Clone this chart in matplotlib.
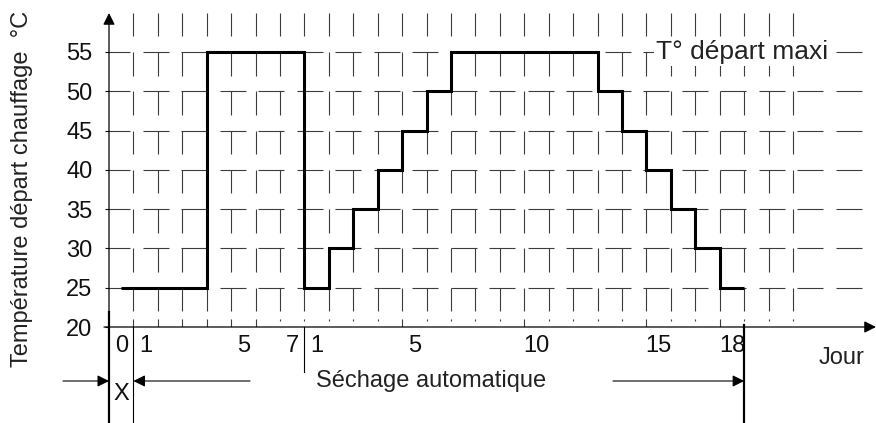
import numpy as np
import matplotlib.pyplot as plt
from matplotlib.collections import LineCollection

plt.rcParams['font.family'] = ['Liberation Sans', 'DejaVu Sans']

# consignes de temperature, un palier par jour
jours_x = [0, 1, 2, 3, 4, 5, 6, 7]
temp_x = [25, 25, 25, 25, 55, 55, 55, 55]
jours_sechage = list(range(1, 19))
temp_sechage = [25, 30, 35, 40, 45, 50, 55, 55, 55, 55, 55, 55, 50, 45, 40, 35, 30, 25]

paliers = [20, 25, 30, 35, 40, 45, 50, 55]
jours_affiches_x = [0, 1, 5, 7]
jours_affiches_sechage = [1, 5, 10, 15, 18]

# echelle en pixels (1 jour = 1 case)
px_x = 684 / 28
px_y = 275 / 35
xmax = 767 / px_x
ymax = 20 + 314 / px_y
ybas = 20 - 96 / px_y

fig = plt.figure(figsize=(8.76, 4.23), dpi=100)
ax = fig.add_axes([109 / 876, 96 / 423, 767 / 876, 314 / 423])
ax.set_xlim(0, xmax)
ax.set_ylim(20, ymax)
for s in ax.spines.values():
    s.set_visible(False)

# quadrillage en tirets
segs = []
for c in range(1, 29):
    for L in range(25, 65, 5):
        segs.append([(c, L - 3), (c, min(L, ymax))])
    if c <= 6 or c in (12, 17, 22, 25):
        segs.append([(c, 20), (c, 21)])
    else:
        segs.append([(c, 20.75), (c, 21.0)])
for L in paliers[1:]:
    for k in range(20):
        x0 = -5 / px_x + k * 38.5 / px_x
        segs.append([(x0, L), (x0 + 26 / px_x, L)])
ax.add_collection(LineCollection(segs, colors='#3c3c3c', linewidths=0.8, zorder=1))

# courbe de temperature
temps = temp_x + temp_sechage
bords = np.arange(len(temps) + 1, dtype=float)
bords[0] = 0.5
ax.stairs(temps, bords, baseline=None, color='black', lw=2.2, zorder=3)

# axes avec fleches
fl = dict(arrowstyle='-|>,head_length=0.5,head_width=0.25', color='black',
          lw=0.9, shrinkA=0, shrinkB=0, mutation_scale=14)
ax.annotate('', xy=(0, ymax), xytext=(0, 20), arrowprops=fl, annotation_clip=False)
ax.annotate('', xy=(xmax, 20), xytext=(-5 / px_x, 20), arrowprops=fl, annotation_clip=False)

ax.set_yticks(paliers)
ax.tick_params(axis='y', length=2.9, width=0.8, pad=9, labelsize=17, colors='#111111')

pos = [d + 0.5 for d in jours_affiches_x] + [7 + d + 0.5 for d in jours_affiches_sechage]
lab = [str(d) for d in jours_affiches_x] + [str(d) for d in jours_affiches_sechage]
ax.set_xticks(pos, lab)
ax.tick_params(axis='x', length=0, pad=6, labelsize=17, colors='#111111')

# reperes sous l'axe
ax.plot([0, 0], [20 + 15 / px_y, ybas], color='black', lw=1.6, clip_on=False)
ax.plot([1, 1], [20, ybas], color='black', lw=0.8, clip_on=False)
ax.plot([8, 8], [20, 20 - 45 / px_y], color='black', lw=0.8, clip_on=False)
ax.plot([26, 26], [20 + 2 / px_y, ybas], color='black', lw=1.6, clip_on=False)

yf = 20 - 54 / px_y
fl2 = dict(arrowstyle='-|>,head_length=0.5,head_width=0.25', color='black',
           lw=0.8, shrinkA=0, shrinkB=0, mutation_scale=14)
ax.annotate('', xy=(0, yf), xytext=(-46 / px_x, yf), arrowprops=fl2, annotation_clip=False)
ax.annotate('', xy=(1, yf), xytext=(141 / px_x, yf), arrowprops=fl2, annotation_clip=False)
ax.annotate('', xy=(26, yf), xytext=(504 / px_x, yf), arrowprops=fl2, annotation_clip=False)

ax.text(12 / px_x, 20 - 67 / px_y, 'X', fontsize=17, ha='center', va='center', color='#111111')
ax.text(322 / px_x, yf, 'Séchage automatique', fontsize=17, ha='center', va='center', color='#222222')
ax.text(733 / px_x, 20 - 31 / px_y, 'Jour', fontsize=17, ha='center', va='center', color='#222222')
ax.text(633.5 / px_x, 55, 'T° départ maxi', fontsize=19, ha='center', va='center', color='#222222',
        zorder=4, bbox=dict(facecolor='white', edgecolor='none', pad=1.5))

fig.text(22 / 876, 1 - 189 / 423, 'Température départ chauffage  °C', rotation=90,
         fontsize=17, ha='center', va='center', color='#222222')

fig.savefig('out.png', dpi=100)
